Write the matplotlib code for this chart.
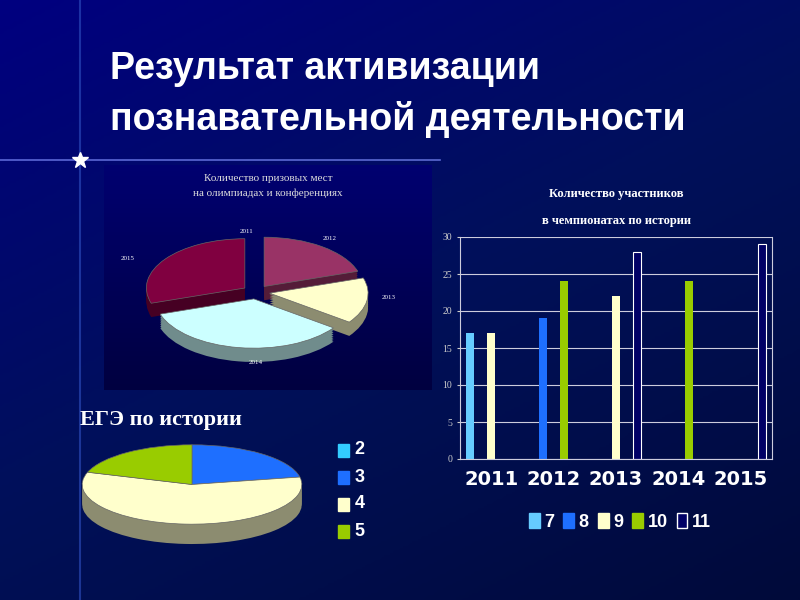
import numpy as np
import matplotlib
matplotlib.use("Agg")
import matplotlib.pyplot as plt
from matplotlib.colors import LinearSegmentedColormap

# data
prize_years = ["2011", "2012", "2013", "2014", "2015"]
prize_share = [20, 15, 35, 30]          # 2011 has no share
prize_colors = ["#993366", "#FFFFCC", "#CCFFFF", "#800040"]

ege_labels = ["2", "3", "4", "5"]
ege_share = [22, 58, 20]                 # "2" has no share
ege_colors = ["#33CCFF", "#1E6FFF", "#FFFFCC", "#99CC00"]

years = ["2011", "2012", "2013", "2014", "2015"]
grades = ["7", "8", "9", "10", "11"]
part = {
    "7": [17, 0, 0, 0, 0],
    "8": [0, 19, 0, 0, 0],
    "9": [17, 0, 22, 0, 0],
    "10": [0, 24, 0, 24, 0],
    "11": [0, 0, 28, 0, 29],
}
grade_colors = ["#66CCFF", "#1E6FFF", "#FFFFCC", "#99CC00", "#000066"]

fig = plt.figure(figsize=(8, 6), dpi=100)

# background gradient
bg = fig.add_axes([0, 0, 1, 1])
cmap = LinearSegmentedColormap.from_list("bg", ["#000080", "#00105a", "#000a3a"])
grad = np.linspace(0, 1, 256).reshape(-1, 1) * 0.6 + np.linspace(0, 1, 256).reshape(1, -1) * 0.4
bg.imshow(grad, cmap=cmap, aspect="auto", extent=[0, 1, 0, 1], origin="upper")
bg.plot([0.1, 0.1], [0, 1], color="#3050c0", lw=1.5, alpha=0.6)
bg.plot([0, 0.55], [0.733, 0.733], color="#8090ff", lw=1.2, alpha=0.7)
bg.plot([0.1], [0.733], marker="*", color="white", ms=12)
bg.set_xlim(0, 1)
bg.set_ylim(0, 1)
bg.axis("off")

fig.text(0.138, 0.885, "Результат активизации", color="white", fontsize=27,
         fontweight="bold", family="Liberation Sans", va="center")
fig.text(0.138, 0.80, "познавательной деятельности", color="white", fontsize=27,
         fontweight="bold", family="Liberation Sans", va="center")
fig.text(0.1, 0.30, "ЕГЭ по истории", color="white", fontsize=16,
         fontweight="bold", family="Liberation Serif", va="center")


def pie3d(ax, vals, colors, explode, depth=0.28):
    dark = [tuple(np.array(matplotlib.colors.to_rgb(c)) * 0.55) for c in colors]
    for k in np.linspace(depth, 0.02, 8):
        ax.pie(vals, colors=dark, startangle=90, counterclock=False, explode=explode,
               center=(0, -k), wedgeprops=dict(linewidth=0))
    ax.pie(vals, colors=colors, startangle=90, counterclock=False, explode=explode,
           wedgeprops=dict(edgecolor="#666666", linewidth=0.5))
    ax.set_aspect("auto")


# top-left prize chart
ax1 = fig.add_axes([0.13, 0.35, 0.41, 0.375])
ax1.imshow(np.linspace(0, 1, 100).reshape(-1, 1), cmap=LinearSegmentedColormap.from_list(
    "p", ["#000070", "#000040"]), aspect="auto", extent=[0, 1, 0, 1], transform=ax1.transAxes)
ax1.axis("off")
ax1.text(0.5, 0.93, "Количество призовых мест", color="#dddddd", fontsize=8,
         family="Liberation Serif", ha="center", transform=ax1.transAxes)
ax1.text(0.5, 0.86, "на олимпиадах и конференциях", color="#dddddd", fontsize=8,
         family="Liberation Serif", ha="center", transform=ax1.transAxes)
axp = fig.add_axes([0.16, 0.39, 0.32, 0.23])
pie3d(axp, prize_share, prize_colors, [0.14] * 4)
axp.set_xlim(-1.3, 1.3)
axp.set_ylim(-1.5, 1.3)
for lab, (x, y) in zip(prize_years, [(-0.1, 1.2), (0.75, 1.05), (1.35, -0.15), (0, -1.45), (-1.3, 0.65)]):
    axp.text(x, y, lab, color="white", fontsize=5, family="Liberation Serif", ha="center")

# bottom-left EGE pie
axe = fig.add_axes([0.1, 0.09, 0.28, 0.17])
pie3d(axe, ege_share, ege_colors[1:], None, depth=0.5)
axe.set_xlim(-1.02, 1.02)
axe.set_ylim(-1.55, 1.02)
for i, (lab, c) in enumerate(zip(ege_labels, ege_colors)):
    y = 0.25 - i * 0.045
    fig.patches.append(plt.Rectangle((0.422, y - 0.012), 0.014, 0.022, color=c,
                                     transform=fig.transFigure, figure=fig))
    fig.text(0.443, y, lab, color="white", fontsize=13, fontweight="bold",
             family="Liberation Sans", va="center")

# right bar chart
axb = fig.add_axes([0.575, 0.235, 0.39, 0.37])
axb.set_facecolor("none")
x = np.arange(len(years))
w = 0.13
for i, (g, c) in enumerate(zip(grades, grade_colors)):
    v = np.array(part[g], dtype=float)
    m = v > 0
    axb.bar(x[m] + (i - 2) * w * 1.3, v[m], width=w, color=c,
            edgecolor="white" if g == "11" else "none", linewidth=0.8)
axb.set_ylim(0, 30)
axb.set_xlim(-0.5, 4.5)
axb.set_yticks(range(0, 31, 5))
axb.set_yticklabels([str(t) for t in range(0, 31, 5)], color="#cccccc", fontsize=7,
                    family="Liberation Serif")
axb.set_xticks(x)
axb.set_xticklabels(years, color="white", fontsize=14, fontweight="bold",
                    family="Liberation Sans Narrow")
axb.tick_params(axis="x", length=0, pad=8)
axb.tick_params(axis="y", length=2, color="#cccccc")
axb.yaxis.grid(True, color="#ccccdd", lw=0.8)
axb.set_axisbelow(True)
axb.spines["top"].set_visible(False)
for s in ["left", "right", "bottom"]:
    axb.spines[s].set_color("#ccccdd")
fig.text(0.77, 0.672, "Количество участников", color="white", fontsize=9,
         fontweight="bold", family="Liberation Serif", ha="center")
fig.text(0.77, 0.627, "в чемпионатах по истории", color="white", fontsize=9,
         fontweight="bold", family="Liberation Serif", ha="center")

handles = [plt.Rectangle((0, 0), 1, 1, facecolor=c, edgecolor="white" if g == "11" else c)
           for g, c in zip(grades, grade_colors)]
leg = fig.legend(handles, grades, loc="center", bbox_to_anchor=(0.775, 0.13), ncol=5,
                 frameon=False, handlelength=0.6, handleheight=0.9, columnspacing=0.5,
                 handletextpad=0.25, prop=dict(family="Liberation Sans", weight="bold", size=13))
for t in leg.get_texts():
    t.set_color("white")

fig.savefig("out.png", dpi=100)
